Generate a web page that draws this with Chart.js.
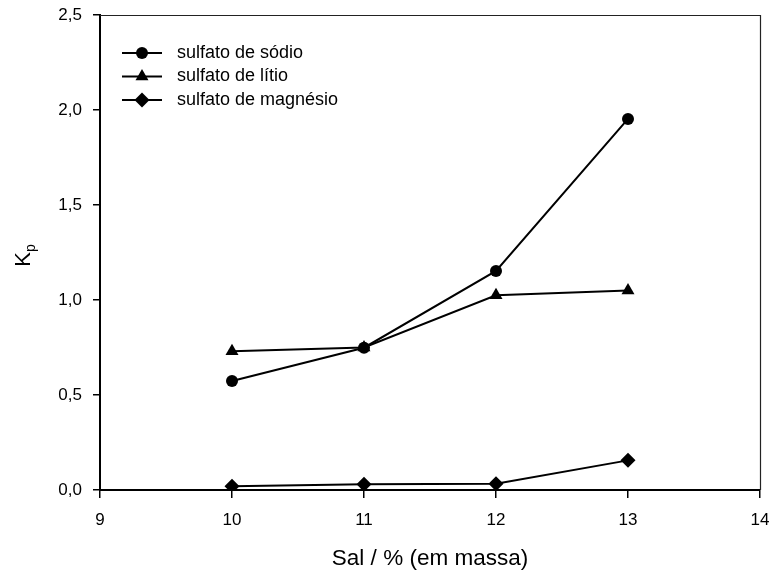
<!DOCTYPE html>
<html>
<head>
<meta charset="utf-8">
<script src="https://cdn.jsdelivr.net/npm/chart.js@4/dist/chart.umd.min.js"></script>
<style>
html,body{margin:0;padding:0;background:#fff;}
#wrap{width:774px;height:572px;position:relative;}
</style>
</head>
<body>
<div id="wrap"><canvas id="c" width="774" height="572"></canvas></div>
<script>
const salPercent = [10, 11, 12, 13];
const sodio = [0.574, 0.749, 1.153, 1.953];
const litio = [0.73, 0.75, 1.025, 1.05];
const magnesio = [0.02, 0.03, 0.033, 0.156];
const seriesNames = ['sulfato de sódio', 'sulfato de lítio', 'sulfato de magnésio'];
const xTitle = 'Sal / % (em massa)';
const yTitleMain = 'K';
const yTitleSub = 'p';

function pts(ys){ return salPercent.map((x,i)=>({x:x,y:ys[i]})); }

const FONT = 'Arial, "Liberation Sans", sans-serif';

const frame = {
  id:'frame',
  afterDatasetsDraw(chart){
    const a = chart.chartArea, ctx = chart.ctx;
    ctx.save();
    ctx.strokeStyle = '#222';
    ctx.lineWidth = 1.2;
    ctx.beginPath();
    ctx.moveTo(a.left, a.top+0.5); ctx.lineTo(a.right+0.5, a.top+0.5); ctx.lineTo(a.right+0.5, a.bottom);
    ctx.stroke();
    ctx.restore();
  }
};

const innerLegend = {
  id:'innerLegend',
  afterDraw(chart){
    const ctx = chart.ctx;
    const x0 = 122, x1 = 162, tx = 177, y0 = 53, dy = 23.5;
    ctx.save();
    chart.data.datasets.forEach((ds,i)=>{
      const y = y0 + i*dy;
      ctx.strokeStyle = '#000'; ctx.lineWidth = 2;
      ctx.beginPath(); ctx.moveTo(x0,y); ctx.lineTo(x1,y); ctx.stroke();
      ctx.fillStyle = '#000';
      Chart.helpers.drawPoint(ctx, {pointStyle: ds.pointStyle, radius: ds.pointRadius, borderWidth: 0}, (x0+x1)/2, y);
      ctx.fillStyle = '#000';
      ctx.font = '18px ' + FONT;
      ctx.textBaseline = 'middle';
      ctx.textAlign = 'left';
      ctx.fillText(ds.label, tx, y);
    });
    ctx.restore();
  }
};

const yTitlePlugin = {
  id:'yTitlePlugin',
  afterDraw(chart){
    const ctx = chart.ctx;
    const a = chart.chartArea;
    ctx.save();
    ctx.translate(30, (a.top + a.bottom)/2 + 3);
    ctx.rotate(-Math.PI/2);
    ctx.fillStyle = '#000';
    ctx.textBaseline = 'alphabetic';
    ctx.font = '22px ' + FONT;
    const w1 = ctx.measureText(yTitleMain).width;
    ctx.font = '14px ' + FONT;
    const w2 = ctx.measureText(yTitleSub).width;
    const start = -(w1+w2)/2;
    ctx.font = '22px ' + FONT;
    ctx.textAlign = 'left';
    ctx.fillText(yTitleMain, start, 0);
    ctx.font = '14px ' + FONT;
    ctx.fillText(yTitleSub, start + w1, 5);
    ctx.restore();
  }
};

const common = {
  borderColor:'#000', backgroundColor:'#000', pointBackgroundColor:'#000', pointBorderColor:'#000',
  borderWidth:2, showLine:true, fill:false, tension:0, pointBorderWidth:0
};

new Chart(document.getElementById('c'), {
  type:'scatter',
  data:{
    datasets:[
      Object.assign({label:seriesNames[0], data:pts(sodio), pointStyle:'circle', pointRadius:6}, common),
      Object.assign({label:seriesNames[1], data:pts(litio), pointStyle:'triangle', pointRadius:7.5}, common),
      Object.assign({label:seriesNames[2], data:pts(magnesio), pointStyle:'rectRot', pointRadius:7.5}, common)
    ]
  },
  options:{
    responsive:false,
    animation:false,
    devicePixelRatio:1,
    layout:{padding:{left:0, top:15, right:14, bottom:0}},
    plugins:{legend:{display:false}, tooltip:{enabled:false},
      title:{display:false}},
    scales:{
      x:{
        type:'linear', min:9, max:14,
        afterFit(s){ s.height = 82; s.paddingRight = 0; s.paddingLeft = 0; },
        ticks:{stepSize:1, color:'#000', font:{size:17, family:FONT}, padding:12,
          callback:(v)=>String(v)},
        grid:{drawOnChartArea:false, drawTicks:true, tickLength:8, color:'#000', lineWidth:1.5},
        border:{display:true, color:'#000', width:2},
        title:{display:true, text:xTitle, color:'#000', font:{size:22.5, family:FONT}, padding:{top:12, bottom:0}}
      },
      y:{
        type:'linear', min:0, max:2.5,
        afterFit(s){ s.width = 100; s.paddingTop = 0; s.paddingBottom = 0; },
        ticks:{stepSize:0.5, color:'#000', font:{size:17, family:FONT}, padding:11,
          callback:(v)=>v.toFixed(1).replace('.', ',')},
        grid:{drawOnChartArea:false, drawTicks:true, tickLength:7, color:'#000', lineWidth:1.5},
        border:{display:true, color:'#000', width:2}
      }
    }
  },
  plugins:[frame, innerLegend, yTitlePlugin]
});
</script>
</body>
</html>
